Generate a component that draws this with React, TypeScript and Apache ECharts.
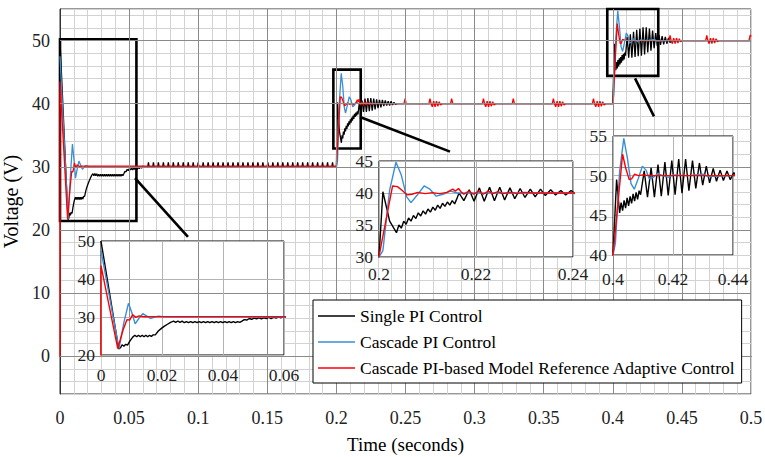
import React, { useEffect, useRef } from 'react';
import * as echarts from 'echarts';

const FONT = 'Liberation Serif';

const seriesNames = [
  'Single PI Control',
  'Cascade PI Control',
  'Cascade PI-based Model Reference Adaptive Control',
];
const seriesColors = ['#000000', '#3a8fd4', '#ff0000'];

// ---------- Single PI Control (black) ----------
const singleStart: number[][] = [
  [0, 50], [0.0058, 21.6], [0.0064, 21.9], [0.0069, 22.7], [0.0075, 22.3], [0.0081, 22.8], [0.0087, 22.6],
  [0.0094, 23.6], [0.0104, 24.7], [0.0111, 25.2], [0.0117, 24.8], [0.0123, 25.2], [0.0129, 24.8], [0.0135, 25.2],
  [0.0141, 24.8], [0.0147, 25.2], [0.0153, 24.8], [0.0159, 25.2], [0.0165, 24.9], [0.0171, 25.3], [0.0178, 25.3],
  [0.0188, 26.3], [0.0198, 27.0], [0.0208, 27.6], [0.0218, 28.1], [0.0228, 28.6], [0.0238, 28.9], [0.0245, 28.6],
  [0.0252, 28.95], [0.0259, 28.6], [0.0266, 28.9], [0.0273, 28.5], [0.028, 28.8], [0.0287, 28.5], [0.0294, 28.8],
  [0.0301, 28.5], [0.0308, 28.8], [0.0315, 28.5], [0.0322, 28.8], [0.0329, 28.5], [0.0336, 28.8], [0.0343, 28.5],
  [0.035, 28.8], [0.0357, 28.5], [0.0364, 28.8], [0.0371, 28.5], [0.0378, 28.8], [0.0385, 28.5], [0.0392, 28.8],
  [0.0399, 28.5], [0.0406, 28.8], [0.0413, 28.5], [0.042, 28.8], [0.0427, 28.5], [0.0434, 28.8], [0.0441, 28.5],
  [0.0448, 28.8], [0.0455, 28.6], [0.0462, 28.9], [0.047, 29.3], [0.0478, 29.2], [0.0486, 29.6], [0.0494, 29.4],
  [0.0502, 29.7], [0.051, 29.5], [0.0518, 29.8], [0.0526, 29.5], [0.0534, 29.8], [0.0542, 29.6], [0.055, 29.9],
  [0.0558, 29.6], [0.0566, 29.9], [0.0574, 29.7], [0.0582, 30.0], [0.059, 29.8], [0.0598, 30.1], [0.0606, 29.9],
];
const singleRipple30: number[][] = [
  [0.0635, 30], [0.064, 30.7], [0.0645, 30], [0.0671, 30], [0.0676, 30.7], [0.0681, 30],
  [0.0707, 30], [0.0712, 30.7], [0.0717, 30], [0.0743, 30], [0.0748, 30.7], [0.0753, 30],
  [0.0779, 30], [0.0784, 30.7], [0.0789, 30], [0.0815, 30], [0.082, 30.7], [0.0825, 30],
  [0.0851, 30], [0.0856, 30.7], [0.0861, 30], [0.0887, 30], [0.0892, 30.7], [0.0897, 30],
  [0.0923, 30], [0.0928, 30.7], [0.0933, 30], [0.0959, 30], [0.0964, 30.7], [0.0969, 30],
  [0.0995, 30], [0.1, 30.7], [0.1005, 30], [0.1031, 30], [0.1036, 30.7], [0.1041, 30],
  [0.1067, 30], [0.1072, 30.7], [0.1077, 30], [0.1103, 30], [0.1108, 30.7], [0.1113, 30],
  [0.1139, 30], [0.1144, 30.7], [0.1149, 30], [0.1175, 30], [0.118, 30.7], [0.1185, 30],
  [0.1211, 30], [0.1216, 30.7], [0.1221, 30], [0.1247, 30], [0.1252, 30.7], [0.1257, 30],
  [0.1283, 30], [0.1288, 30.7], [0.1293, 30], [0.1319, 30], [0.1324, 30.7], [0.1329, 30],
  [0.1355, 30], [0.136, 30.7], [0.1365, 30], [0.1391, 30], [0.1396, 30.7], [0.1401, 30],
  [0.1427, 30], [0.1432, 30.7], [0.1437, 30], [0.1463, 30], [0.1468, 30.7], [0.1473, 30],
  [0.1499, 30], [0.1504, 30.7], [0.1509, 30], [0.1535, 30], [0.154, 30.7], [0.1545, 30],
  [0.1571, 30], [0.1576, 30.7], [0.1581, 30], [0.1607, 30], [0.1612, 30.7], [0.1617, 30],
  [0.1643, 30], [0.1648, 30.7], [0.1653, 30], [0.1679, 30], [0.1684, 30.7], [0.1689, 30],
  [0.1715, 30], [0.172, 30.7], [0.1725, 30], [0.1751, 30], [0.1756, 30.7], [0.1761, 30],
  [0.1787, 30], [0.1792, 30.7], [0.1797, 30], [0.1823, 30], [0.1828, 30.7], [0.1833, 30],
  [0.1859, 30], [0.1864, 30.7], [0.1869, 30], [0.1895, 30], [0.19, 30.7], [0.1905, 30],
  [0.1931, 30], [0.1936, 30.7], [0.1941, 30], [0.1967, 30], [0.1972, 30.7], [0.1977, 30],
  [0.2, 30],
];
const singleStep40: number[][] = [
  [0.2008, 40.2], [0.2022, 35.6], [0.2036, 33.8], [0.2041, 35.0], [0.2046, 34.5], [0.2051, 35.6], [0.2056, 35.1],
  [0.2061, 36.1], [0.2066, 35.6], [0.2071, 36.5], [0.2076, 36.0], [0.2081, 36.9], [0.2086, 36.4], [0.2091, 37.2],
  [0.2096, 36.7], [0.2101, 37.5], [0.2106, 37.0], [0.2111, 37.8], [0.2116, 37.3], [0.2121, 38.1], [0.2126, 37.6],
  [0.2131, 38.4], [0.2136, 37.9], [0.2141, 38.6], [0.2146, 38.1], [0.2151, 38.8], [0.2156, 38.3], [0.2161, 39.2],
  [0.2165, 40.0], [0.2175, 38.8], [0.2186, 40.5], [0.2196, 38.7], [0.2207, 40.8], [0.2217, 38.7], [0.2228, 40.9],
  [0.2238, 38.8], [0.2249, 40.9], [0.2259, 38.9], [0.227, 40.8], [0.228, 39.1], [0.2291, 40.7], [0.2301, 39.3],
  [0.2312, 40.6], [0.2322, 39.4], [0.2333, 40.6], [0.2343, 39.6], [0.2354, 40.5], [0.2364, 39.7], [0.2375, 40.4],
  [0.2385, 39.7], [0.2396, 40.4], [0.2406, 39.8], [0.2417, 40.2], [0.2427, 39.9], [0.244, 40.0], [0.4, 40.0],
];
const singleStep50: number[][] = [
  [0.4012, 49.5], [0.4022, 45.3], [0.4027, 46.6], [0.4032, 45.6], [0.4037, 46.9], [0.4042, 45.9], [0.4047, 47.2],
  [0.4052, 46.2], [0.4057, 47.4], [0.4062, 46.5], [0.4067, 47.7], [0.4072, 46.8], [0.4077, 47.9], [0.4082, 47.0],
  [0.4087, 48.1], [0.4092, 47.6], [0.4104, 50.6], [0.4115, 47.3], [0.4127, 51.0], [0.4138, 47.3], [0.415, 51.4],
  [0.4161, 47.4], [0.4173, 51.7], [0.4184, 47.5], [0.4196, 51.9], [0.4207, 47.6], [0.4219, 52.1], [0.423, 47.8],
  [0.4242, 52.1], [0.4253, 48.1], [0.4265, 51.9], [0.4276, 48.4], [0.4288, 51.6], [0.4299, 48.8], [0.4311, 51.2],
  [0.4322, 49.1], [0.4334, 50.9], [0.4345, 49.3], [0.4357, 50.7], [0.4368, 49.4], [0.438, 50.6], [0.4391, 49.5],
  [0.4403, 50.4], [0.4414, 49.7], [0.443, 50.0], [0.5, 50.0],
];

// ---------- Cascade PI Control (blue) ----------
const cascadeStart: number[][] = [
  [0, 47.5], [0.0059, 21.7], [0.0075, 28.5], [0.009, 33.6], [0.0101, 31.2], [0.0112, 28.2], [0.0124, 29.6],
  [0.0137, 30.9], [0.0149, 30.3], [0.0162, 29.6], [0.0176, 30.0], [0.019, 30.2], [0.021, 30.0], [0.2, 30.0],
];
const cascadeStep40: number[][] = [
  [0.2008, 31.0], [0.2022, 40.5], [0.2035, 44.8], [0.2046, 42.8], [0.2057, 39.4], [0.2066, 38.5], [0.2078, 39.6],
  [0.2093, 41.1], [0.2105, 40.6], [0.2118, 39.5], [0.2132, 39.8], [0.2147, 40.3], [0.2162, 40.0], [0.4, 40.0],
];
const cascadeStep50: number[][] = [
  [0.4008, 41.5], [0.4022, 50.5], [0.4036, 54.7], [0.4048, 52.2], [0.406, 49.0], [0.4071, 48.3], [0.4084, 49.6],
  [0.4098, 51.2], [0.411, 50.7], [0.4121, 49.6], [0.4135, 49.8], [0.415, 50.3], [0.4165, 50.0], [0.4185, 49.8],
  [0.42, 50.1], [0.425, 50.0], [0.43, 50.2], [0.4315, 49.9], [0.44, 50.0], [0.5, 50.0],
];

// ---------- Cascade PI-based MRAC (red) ----------
const mracStart: number[][] = [
  [0, 0], [0, 43.5], [0.0055, 21.7], [0.0072, 26.5], [0.0085, 29.3], [0.0094, 29.2], [0.0104, 30.6],
  [0.0114, 29.9], [0.0125, 30.3], [0.014, 30.05], [0.016, 30.1], [0.2, 30.1],
];
const mracStep40: number[][] = [
  [0.2028, 41.1], [0.2038, 41.0], [0.2048, 40.4], [0.2058, 39.7], [0.2068, 39.8], [0.208, 40.1], [0.2095, 39.9],
  [0.211, 40.05], [0.2125, 39.9], [0.214, 40.1], [0.2152, 40.6], [0.2158, 40.3], [0.2164, 40.7], [0.217, 40.1],
  [0.2175, 39.8], [0.2185, 40.3], [0.2195, 39.8], [0.2205, 40.3], [0.2215, 39.8], [0.2225, 40.3], [0.2235, 39.9],
  [0.2245, 40.2], [0.2255, 39.9], [0.227, 40.1], [0.2285, 39.95], [0.23, 40.1], [0.232, 40.0],
];
const mracDisturb40: number[][] = [
  [0.2489, 40], [0.2497, 40.8], [0.2505, 40],
  [0.2669, 40], [0.2677, 40.8], [0.2685, 40], [0.2694, 39.5], [0.2704, 40.4], [0.2714, 39.5], [0.2724, 40.4],
  [0.2734, 39.6], [0.2744, 40.3], [0.2754, 39.8], [0.2764, 40],
  [0.2826, 40], [0.2834, 40.8], [0.2842, 40],
  [0.3056, 40], [0.3064, 40.8], [0.3072, 40], [0.3081, 39.5], [0.3091, 40.4], [0.3101, 39.5], [0.3111, 40.4],
  [0.3121, 39.6], [0.3131, 40.3], [0.3141, 39.8], [0.3151, 40],
  [0.3272, 40], [0.328, 40.8], [0.3288, 40],
  [0.3562, 40], [0.357, 40.8], [0.3578, 40], [0.3587, 39.5], [0.3597, 40.4], [0.3607, 39.5], [0.3617, 40.4],
  [0.3627, 39.6], [0.3637, 40.3], [0.3647, 39.8], [0.3657, 40],
  [0.3852, 40], [0.386, 40.8], [0.3868, 40], [0.3877, 39.5], [0.3887, 40.4], [0.3897, 39.5], [0.3907, 40.4],
  [0.3917, 39.6], [0.3927, 40.3], [0.3937, 39.8], [0.3947, 40], [0.4, 40],
];
const mracStep50: number[][] = [
  [0.4032, 52.7], [0.4042, 51.0], [0.4054, 49.5], [0.4062, 49.6], [0.4072, 50.2], [0.4085, 50.0], [0.41, 50.1],
  [0.412, 50.0], [0.4406, 50], [0.4414, 50.8], [0.4422, 50], [0.4431, 49.5], [0.4441, 50.4], [0.4451, 49.5],
  [0.4461, 50.4], [0.4471, 49.6], [0.4481, 50.3], [0.4491, 49.8], [0.4501, 50],
  [0.4672, 50], [0.468, 50.8], [0.4688, 50], [0.4697, 49.5], [0.4707, 50.4], [0.4717, 49.5], [0.4727, 50.4],
  [0.4737, 49.6], [0.4747, 50.3], [0.4757, 49.8], [0.4767, 50],
  [0.4985, 50], [0.4995, 50.9], [0.5, 50.6],
];

const seriesData = [
  [...singleStart, ...singleRipple30, ...singleStep40, ...singleStep50],
  [...cascadeStart, ...cascadeStep40, ...cascadeStep50],
  [...mracStart, ...mracStep40, ...mracDisturb40, ...mracStep50],
];

// Axis ranges
const mainX = { min: 0, max: 0.5, minor: 0.01 };
const mainY = { min: -6, max: 55, minor: 2 };
const mainMajorX = [0.05, 0.1, 0.15, 0.2, 0.25, 0.3, 0.35, 0.4, 0.45];
const mainMajorY = [0, 10, 20, 30, 40, 50];

const insetX = [
  { min: 0, max: 0.06, interval: 0.02 },
  { min: 0.2, max: 0.24, interval: 0.02 },
  { min: 0.4, max: 0.44, interval: 0.02 },
];
const insetY = [
  { min: 20, max: 50, interval: 10 },
  { min: 30, max: 45, interval: 5 },
  { min: 40, max: 55, interval: 5 },
];

// zoom windows drawn on the main axes: [x0, x1, y0, y1]
const zoomBoxes = [
  [0, 0.0553, 21.4, 50.2],
  [0.1978, 0.2176, 32.9, 45.4],
  [0.396, 0.4329, 44.4, 55],
];
const connectors = [
  [[0.0543, 28.2], [0.0926, 18.9]],
  [[0.2171, 37.9], [0.2822, 32.4]],
  [[0.4161, 44.0], [0.4298, 38.0]],
];

const grids = [
  { left: 60, top: 9, width: 691, height: 385 },
  { left: 101, top: 241, width: 183, height: 114 },
  { left: 379, top: 161, width: 194, height: 96 },
  { left: 613, top: 136, width: 120, height: 119 },
];
const insetLabelMargins = [11, 8, 15];

const fmtNum = (v: number) => String(Math.round(v * 1000) / 1000);

function buildOption() {
  const grid: any[] = grids.map((g, i) => ({
    ...g,
    show: true,
    backgroundColor: '#fff',
    borderColor: i === 0 ? '#333' : '#000',
    borderWidth: 1,
    z: i === 0 ? 0 : 5,
    containLabel: false,
    outerBoundsMode: 'none',
  }));

  const xAxis: any[] = [
    {
      type: 'value', gridIndex: 0, min: mainX.min, max: mainX.max, interval: mainX.minor,
      axisLine: { show: true, lineStyle: { color: '#333', width: 1 } },
      axisTick: { show: false },
      splitLine: { show: true, lineStyle: { color: '#d2d2d2', width: 1 } },
      axisLabel: {
        fontFamily: FONT, fontSize: 18, color: '#222', margin: 15,
        formatter: (v: number) => (Math.round(v * 100) % 5 === 0 ? fmtNum(v) : ''),
      },
      name: 'Time (seconds)', nameLocation: 'middle', nameGap: 41,
      nameTextStyle: { fontFamily: FONT, fontSize: 19, color: '#000' },
    },
    ...insetX.map((r, i) => ({
      type: 'value', gridIndex: i + 1, min: r.min, max: r.max, interval: r.interval, z: 6,
      axisLine: { show: false }, axisTick: { show: false },
      splitLine: { show: true, lineStyle: { color: '#b4b4b4', width: 1 } },
      axisLabel: {
        fontFamily: FONT, fontSize: 17.5, color: '#222', margin: insetLabelMargins[i],
        formatter: (v: number) => fmtNum(v),
      },
    })),
  ];

  const yAxis: any[] = [
    {
      type: 'value', gridIndex: 0, min: mainY.min, max: mainY.max, interval: mainY.minor,
      axisLine: { show: true, lineStyle: { color: '#333', width: 1 } },
      axisTick: { show: false },
      splitLine: { show: true, lineStyle: { color: '#d2d2d2', width: 1 } },
      axisLabel: {
        fontFamily: FONT, fontSize: 18, color: '#222', margin: 10,
        formatter: (v: number) => (Math.round(v) % 10 === 0 && v >= 0 ? String(Math.round(v)) : ''),
      },
      name: 'Voltage (V)', nameLocation: 'middle', nameGap: 28, nameRotate: 90,
      nameTextStyle: { fontFamily: FONT, fontSize: 20, color: '#000' },
    },
    ...insetY.map((r, i) => ({
      type: 'value', gridIndex: i + 1, min: r.min, max: r.max, interval: r.interval, z: 6,
      axisLine: { show: false }, axisTick: { show: false },
      splitLine: { show: true, lineStyle: { color: '#b4b4b4', width: 1 } },
      axisLabel: { fontFamily: FONT, fontSize: 17.5, color: '#222', margin: 6, formatter: (v: number) => fmtNum(v) },
    })),
  ];

  const series: any[] = [];
  // major grid lines of main axes
  series.push({
    type: 'line', name: '__grid', xAxisIndex: 0, yAxisIndex: 0, data: [], z: 1, silent: true,
    markLine: {
      silent: true, symbol: 'none', label: { show: false }, animation: false,
      lineStyle: { color: '#8a8a8a', width: 1, type: 'solid' },
      data: [...mainMajorX.map((v) => ({ xAxis: v })), ...mainMajorY.map((v) => ({ yAxis: v }))],
    },
  });

  for (let g = 0; g < 4; g++) {
    for (let s = 0; s < 3; s++) {
      series.push({
        type: 'line', name: seriesNames[s], xAxisIndex: g, yAxisIndex: g,
        data: seriesData[s], symbol: 'none', showSymbol: false, clip: true, silent: true,
        lineStyle: { color: seriesColors[s], width: g === 0 ? 1.3 : 1.4 },
        itemStyle: { color: seriesColors[s] },
        z: g === 0 ? 2 : 7,
      });
    }
  }

  // zoom boxes and connectors
  series.push({
    type: 'line', name: '__zoom', xAxisIndex: 0, yAxisIndex: 0, data: [], z: 3, silent: true,
    markArea: {
      silent: true,
      itemStyle: { color: 'rgba(0,0,0,0)', borderColor: '#000', borderWidth: 2.6 },
      label: { show: false },
      data: zoomBoxes.map((b) => [{ coord: [b[0], b[3]] }, { coord: [b[1], b[2]] }]),
    },
    markLine: {
      silent: true, symbol: 'none', label: { show: false },
      lineStyle: { color: '#000', width: 2.6, type: 'solid' },
      data: connectors.map((c) => [{ coord: c[0] }, { coord: c[1] }]),
    },
  });

  return {
    animation: false,
    backgroundColor: '#fff',
    grid, xAxis, yAxis, series,
    legend: {
      data: seriesNames.map((n, i) => ({ name: n, icon: 'rect', itemStyle: { color: seriesColors[i] } })),
      orient: 'vertical', left: 313, top: 300,
      itemWidth: 37, itemHeight: 1.6, itemGap: 8, padding: [7, 6, 6, 5],
      backgroundColor: '#fff', borderColor: '#000', borderWidth: 1, borderRadius: 0,
      textStyle: { fontFamily: FONT, fontSize: 17.5, color: '#000' },
      selectedMode: false, z: 20,
    },
  };
}

export default function App() {
  const ref = useRef<HTMLDivElement>(null);
  useEffect(() => {
    if (!ref.current) return;
    const chart = echarts.init(ref.current, null, { renderer: 'svg' });
    chart.setOption(buildOption() as any);
    return () => chart.dispose();
  }, []);
  return (
    <div
      ref={ref}
      style={{ position: 'fixed', left: 0, top: 0, width: 765, height: 457, background: '#fff' }}
    />
  );
}
